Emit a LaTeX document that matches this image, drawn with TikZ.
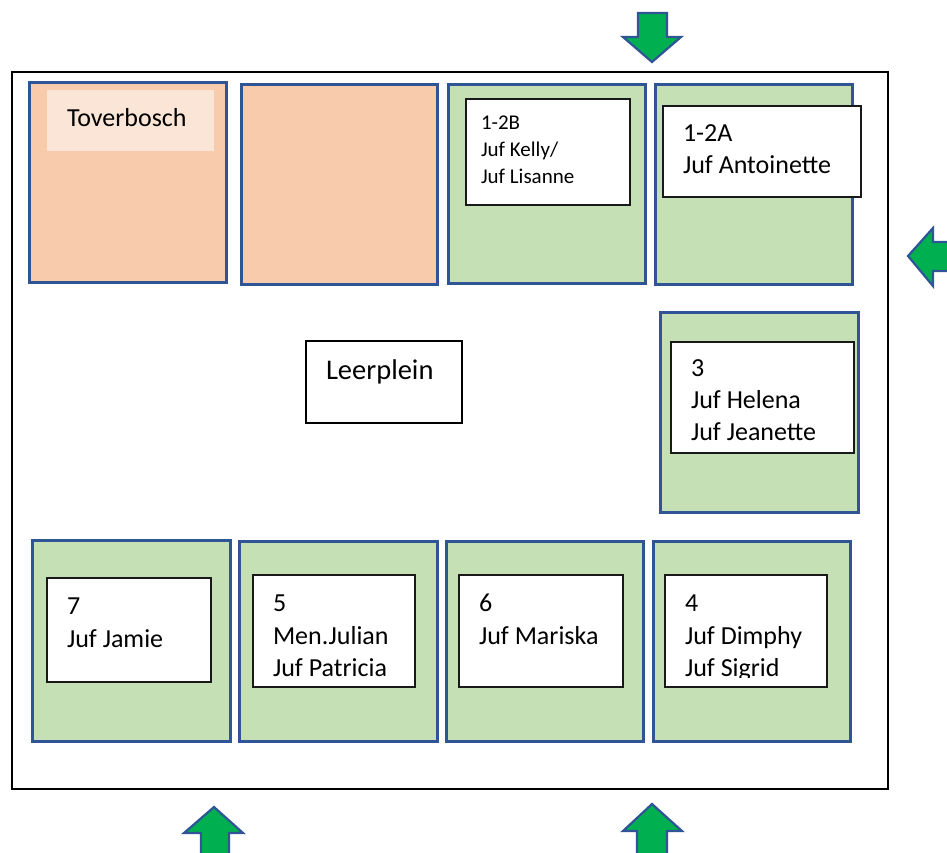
\documentclass[tikz,border=0pt]{standalone}
\usepackage{fontspec}
\setmainfont{Carlito}
\definecolor{peach}{HTML}{F8CBAD}
\definecolor{peachlight}{HTML}{FBE5D6}
\definecolor{roomgreen}{HTML}{C5E0B4}
\definecolor{roomblue}{HTML}{2F5597}
\definecolor{arrowgreen}{HTML}{00B050}
\begin{document}
\begin{tikzpicture}[x=1pt,y=-1pt,
  room/.style={draw=roomblue, line width=3pt, anchor=north west, inner sep=0pt, outer sep=0pt},
  greenroom/.style={room, fill=roomgreen},
  peachroom/.style={room, fill=peach},
  labelbox/.style={draw=black!90, fill=white, line width=1.3pt, anchor=north west, inner sep=0pt, outer sep=0pt},
  txt/.style={anchor=base west, inner sep=0pt, outer sep=0pt, font=\fontsize{26}{32}\selectfont},
  smalltxt/.style={txt, font=\fontsize{21}{26}\selectfont},
  bigtxt/.style={txt, font=\fontsize{28.5}{34}\selectfont},
  entry/.style={draw=roomblue, line width=2.2pt, fill=arrowgreen, line join=miter}
]
\useasboundingbox (0,0) rectangle (947,852);
\clip (0,0) rectangle (947,852);

% outer frame
\node[draw=black, line width=2pt, anchor=north west, inner sep=0pt, minimum width=876pt, minimum height=717pt] (frame) at (11,71) {};

% top row
\node[peachroom, minimum width=197pt, minimum height=200pt] (toverbosch) at (29,82) {};
\node[fill=peachlight, anchor=north west, inner sep=0pt, minimum width=167pt, minimum height=61pt] (toverlabel) at (47,90) {};
\node[txt] (tovertext) at (67,126) {Toverbosch};

\node[peachroom, minimum width=196pt, minimum height=200pt] (peach2) at (241,84) {};

\node[greenroom, minimum width=197pt, minimum height=199pt] (room12b) at (448,84) {};
\node[labelbox, minimum width=164pt, minimum height=106pt] (lab12b) at (466,99) {};
\node[smalltxt] (t12ba) at (481,129) {1-2B};
\node[smalltxt] (t12bb) at (481,156) {Juf Kelly/};
\node[smalltxt] (t12bc) at (481,183) {Juf Lisanne};

\node[greenroom, minimum width=197pt, minimum height=200pt] (room12a) at (655,84) {};
\node[labelbox, minimum width=198pt, minimum height=91pt] (lab12a) at (663,106) {};
\node[txt] (t12aa) at (683,141) {1-2A};
\node[txt] (t12ab) at (683,173) {Juf Antoinette};

% middle
\node[draw=black, line width=1.6pt, anchor=north west, inner sep=0pt, minimum width=156pt, minimum height=82pt] (leer) at (305,340) {};
\node[bigtxt] (leertext) at (326,379) {Leerplein};

\node[greenroom, minimum width=198pt, minimum height=200pt] (room3) at (660,312) {};
\node[labelbox, minimum width=183pt, minimum height=111pt] (lab3) at (671,342) {};
\node[txt] (t3a) at (691,376) {3};
\node[txt] (t3b) at (691,408) {Juf Helena};
\node[txt] (t3c) at (691,440) {Juf Jeanette};

% bottom row
\node[greenroom, minimum width=198pt, minimum height=201pt] (room7) at (32,540) {};
\node[labelbox, minimum width=164pt, minimum height=104pt] (lab7) at (47,578) {};
\node[txt] (t7a) at (67,614) {7};
\node[txt] (t7b) at (67,647) {Juf Jamie};

\node[greenroom, minimum width=198pt, minimum height=200pt] (room5) at (239,541) {};
\node[labelbox, minimum width=162pt, minimum height=112pt] (lab5) at (253,575) {};
\node[txt] (t5a) at (273,611) {5};
\node[txt] (t5b) at (273,644) {Men.Julian};
\node[txt] (t5c) at (273,676) {Juf Patricia};

\node[greenroom, minimum width=197pt, minimum height=200pt] (room6) at (446,541) {};
\node[labelbox, minimum width=164pt, minimum height=112pt] (lab6) at (459,575) {};
\node[txt] (t6a) at (479,611) {6};
\node[txt] (t6b) at (479,644) {Juf Mariska};

\node[greenroom, minimum width=197pt, minimum height=200pt] (room4) at (653,541) {};
\node[labelbox, minimum width=162pt, minimum height=112pt] (lab4) at (665,575) {};
\begin{scope}
  \clip (665,575) rectangle (827,677);
  \node[txt] (t4a) at (685,611) {4};
  \node[txt] (t4b) at (685,644) {Juf Dimphy};
  \node[txt] (t4c) at (685,676) {Juf Sigrid};
\end{scope}

% entrance arrows
\draw[entry] (638,13) -- (667,13) -- (667,37) -- (681,37) -- (652,62) -- (623,37) -- (638,37) -- cycle;
\draw[entry] (960,242) -- (933,242) -- (933,228) -- (908,256) -- (933,286) -- (933,271) -- (960,271) -- cycle;
\draw[entry] (201,870) -- (201,833) -- (184,833) -- (214,807) -- (243,833) -- (229,833) -- (229,870) -- cycle;
\draw[entry] (637,870) -- (637,831) -- (623,831) -- (652,804) -- (682,831) -- (667,831) -- (667,870) -- cycle;
\end{tikzpicture}
\end{document}
